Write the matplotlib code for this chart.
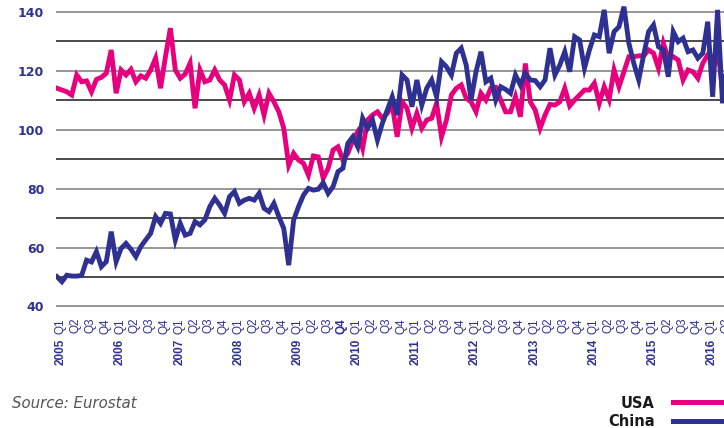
import matplotlib.pyplot as plt
from matplotlib.lines import Line2D
import numpy as np

# monthly index values, Jan 2005 onwards
usa = [114.1, 113.5, 112.9, 111.8, 118.6, 116.3, 116.6, 112.9, 117.1, 117.8, 119.2, 127.1,
       112.4, 120.3, 118.6, 120.5, 116.3, 118.3, 117.5, 120.3, 124.3, 114.1, 124.8, 134.5,
       120.3, 117.5, 118.9, 122.6, 107.3, 120.3, 116.3, 116.9, 120.3, 116.9, 115.2, 110.1,
       118.6, 116.9, 109.5, 112.4, 107.3, 111.8, 105.0, 112.4, 109.5, 106.1, 100.5, 88.0,
       92.0, 89.7, 88.6, 84.6, 91.1, 90.8, 83.5, 86.9, 93.1, 94.2, 89.7, 92.0,
       96.5, 99.3, 93.7, 103.3, 105.0, 106.1, 103.9, 105.6, 108.4, 97.6, 109.5, 107.3,
       100.5, 105.6, 100.5, 103.3, 103.9, 109.0, 97.6, 103.3, 111.8, 114.1, 115.2, 110.7,
       109.5, 106.1, 112.4, 110.1, 114.1, 114.4, 110.1, 106.1, 106.1, 111.2, 104.4, 122.5,
       109.5, 106.7, 100.5, 105.0, 108.6, 108.4, 109.5, 114.1, 108.1, 110.1, 111.8, 113.5,
       113.5, 115.8, 109.0, 114.6, 110.3, 120.3, 114.6, 119.7, 124.8, 124.8, 125.1, 125.1,
       127.1, 126.0, 120.9, 129.4, 124.3, 124.8, 123.7, 116.9, 120.3, 119.7, 117.5, 122.6,
       125.4, 123.7, 127.7, 113.5, 121.4]

china = [50.1, 48.4, 50.6, 50.3, 50.3, 50.5, 55.7, 55.1, 58.6, 53.5, 55.2, 65.4,
         55.2, 59.7, 61.4, 59.4, 56.9, 60.3, 62.6, 64.8, 70.5, 68.2, 71.6, 71.4,
         62.6, 68.2, 64.2, 64.8, 68.8, 67.7, 69.4, 73.9, 76.7, 74.4, 71.6, 77.3,
         79.0, 75.0, 76.1, 76.7, 76.1, 78.4, 73.3, 72.2, 75.0, 70.5, 66.5, 54.0,
         69.3, 73.9, 77.8, 80.1, 79.5, 79.8, 82.0, 78.4, 80.7, 85.8, 86.9, 95.4,
         97.6, 94.2, 103.9, 100.5, 103.3, 96.5, 102.2, 106.7, 111.2, 105.0, 118.6, 116.9,
         107.8, 116.9, 108.4, 114.1, 116.9, 111.2, 123.1, 121.4, 118.6, 126.0, 127.7, 122.0,
         110.1, 119.7, 126.5, 116.3, 117.5, 110.1, 114.6, 113.7, 112.4, 118.6, 115.2, 119.2,
         116.9, 116.7, 114.6, 116.9, 127.7, 118.6, 122.0, 126.5, 119.7, 131.6, 130.5, 120.9,
         127.1, 132.2, 131.6, 140.7, 126.0, 133.3, 135.0, 141.8, 129.4, 122.6, 116.9, 125.4,
         133.3, 135.6, 128.2, 127.1, 118.0, 133.3, 129.9, 131.1, 126.5, 127.1, 124.3, 126.0,
         136.7, 111.2, 140.7, 109.0, 127.1]

years = list(range(2005, 2017))
quarters = ['Q1', 'Q2', 'Q3', 'Q4']
y_ticks = list(range(40, 141, 10))

NAVY = '#2e3192'
PINK = '#e6007e'
W, H = 724, 428

fig = plt.figure(figsize=(W / 100, H / 100), dpi=100)
ax = fig.add_axes([56 / W, 115.7 / H, 668 / W, 312.1 / H])

months = np.arange(len(usa))
ax.plot(months, usa, color=PINK, lw=3.5, solid_joinstyle='miter', zorder=3)
ax.plot(months[:len(china)], china, color=NAVY, lw=3.5, solid_joinstyle='miter', zorder=4)

ax.set_xlim(-0.2, 135.3)
ax.set_ylim(38, 144)

ax.set_yticks(y_ticks)
ax.set_yticklabels([str(v) if v % 20 == 0 else '' for v in y_ticks])
ax.tick_params(axis='y', length=0, pad=8.5, labelcolor=NAVY, labelsize=9)
for lbl in ax.get_yticklabels():
    lbl.set_fontweight('bold')
ax.yaxis.grid(True)
for v, gl in zip(y_ticks, ax.get_ygridlines()):
    gl.set_color('#7a7a7a' if v % 20 == 0 else '#1a1a1a')
    gl.set_linewidth(1.1)
ax.set_xticks([])
for s in ax.spines.values():
    s.set_visible(False)

# quarter labels + year labels below
trans = ax.get_xaxis_transform()
q_idx = 0
for yr in years:
    for qi, q in enumerate(quarters):
        if yr == 2016 and qi > 1:
            break
        xpos = 0.8 + 3 * q_idx
        bold = (yr == 2009 and q == 'Q4')
        ax.text(xpos, -0.018, q, transform=trans, rotation=90, ha='center', va='top',
                fontsize=8.5, color=NAVY, family='Liberation Sans',
                fontweight='bold' if bold else 'normal', clip_on=False)
        if qi == 0:
            ax.text(xpos, -0.0855, str(yr), transform=trans, rotation=90, ha='center',
                    va='top', fontsize=8.5, color=NAVY, family='Liberation Sans',
                    fontweight='bold', clip_on=False)
        q_idx += 1

# source note
fig.text(12 / W, 1 - 403 / H, 'Source: Eurostat', ha='left', va='center',
         fontsize=10.8, style='italic', color='#555555')

# legend
for label, col, yc in [('USA', PINK, 402), ('China', NAVY, 421)]:
    fig.text(655 / W, 1 - (yc + 1) / H, label, ha='right', va='center',
             fontsize=10.5, fontweight='bold', color='#1a1a1a')
    fig.add_artist(Line2D([673 / W, 1.0], [1 - yc / H, 1 - yc / H], color=col,
                          lw=3.6, transform=fig.transFigure))

fig.savefig('out.png', dpi=100)
